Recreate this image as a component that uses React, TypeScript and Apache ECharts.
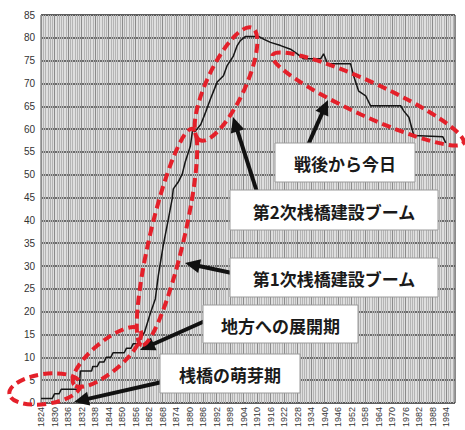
import React, { useEffect, useRef } from 'react';
import * as echarts from 'echarts';

// Tick labels exactly as printed on the reference axis
const xTickLabels = [
  '1824', '1830', '1836', '1832', '1838', '1844', '1850', '1856', '1862', '1868',
  '1874', '1880', '1886', '1892', '1898', '1904', '1910', '1916', '1922', '1928',
  '1934', '1940', '1946', '1952', '1958', '1964', '1970', '1976', '1982', '1988', '1994',
];

// Position along the axis (tick i sits at 1824 + 6 * i)
const axisYears = [
  1824, 1829, 1830, 1832, 1833, 1841, 1841.5, 1846.5, 1847, 1849, 1850, 1852, 1853, 1855,
  1856, 1861, 1862, 1864, 1865, 1867, 1868, 1870, 1872.5, 1874.8, 1876.1, 1878.3, 1880.6,
  1882.3, 1882.8, 1885, 1886.8, 1888.1, 1890.4, 1891.3, 1892.5, 1895, 1897, 1899.3, 1902.3,
  1905.1, 1906.7, 1909.5, 1911.2, 1912.6, 1914.9, 1920.7, 1922.9, 1926, 1930.5, 1934.9,
  1937.9, 1940.7, 1948.3, 1949.6, 1951.4, 1961.6, 1963, 1965.2, 1967, 1968.3, 1970.5,
  1983.9, 1985.2, 1987.5, 1989.7, 2002.6, 2003.9,
];

// Number of piers
const pierCounts = [
  1, 1, 2, 2, 3, 3, 7, 7, 8, 8, 9, 9, 10, 10,
  11, 11, 12, 12, 13, 13, 14, 15.5, 19.5, 22.8, 27.8, 34.4, 40.3,
  44.7, 46.9, 48.4, 50.2, 52.8, 56.3, 59.6, 59.5, 61, 63.5, 66.6, 70.3,
  71.7, 73.9, 76, 78.3, 79.4, 80.3, 80.3, 79.7, 79, 78.3, 77.5,
  76.5, 75.4, 75.4, 76.5, 74.3, 74.3, 71.6, 68.3, 67.7, 67.3, 65.1,
  65.1, 64, 62.6, 58.6, 58.3, 57,
];

const periodLabels = ['戦後から今日', '第2次桟橋建設ブーム', '第1次桟橋建設ブーム', '地方への展開期', '桟橋の萌芽期'];

const RED = '#e4202a';
const JP = '"Noto Sans CJK JP", "Noto Sans", sans-serif';

function arrow(x1: number, y1: number, x2: number, y2: number) {
  const dx = x2 - x1;
  const dy = y2 - y1;
  const L = Math.hypot(dx, dy);
  const ux = dx / L;
  const uy = dy / L;
  const hl = 15;
  const hw = 14;
  const bx = x2 - ux * hl;
  const by = y2 - uy * hl;
  const px = -uy;
  const py = ux;
  return [
    {
      type: 'line',
      z: 10,
      shape: { x1, y1, x2: bx + ux * 2, y2: by + uy * 2 },
      style: { stroke: '#111', lineWidth: 4 },
    },
    {
      type: 'polygon',
      z: 10,
      shape: {
        points: [
          [x2, y2],
          [bx + (px * hw) / 2, by + (py * hw) / 2],
          [bx - (px * hw) / 2, by - (py * hw) / 2],
        ],
      },
      style: { fill: '#111' },
    },
  ];
}

function box(x: number, y: number, w: number, h: number, text: string) {
  return [
    {
      type: 'rect',
      z: 20,
      shape: { x, y, width: w, height: h },
      style: { fill: '#fff', stroke: '#9a9a9a', lineWidth: 1 },
    },
    {
      type: 'text',
      z: 21,
      x: x + w / 2,
      y: y + h / 2 + 1,
      style: {
        text,
        fill: '#1a1a1a',
        fontSize: 17,
        fontWeight: 'bold',
        fontFamily: JP,
        align: 'center',
        verticalAlign: 'middle',
      },
    },
  ];
}

function ring(cx: number, cy: number, rx: number, ry: number, deg: number) {
  return {
    type: 'ellipse',
    z: 30,
    x: cx,
    y: cy,
    rotation: (deg * Math.PI) / 180,
    shape: { cx: 0, cy: 0, rx, ry },
    style: { fill: 'none', stroke: RED, lineWidth: 4, lineDash: [9, 5] },
  };
}

export default function App() {
  const ref = useRef<HTMLDivElement>(null);

  useEffect(() => {
    if (!ref.current) return;
    const chart = echarts.init(ref.current, null, { renderer: 'svg' });
    const data = axisYears.map((x, i) => [x, pierCounts[i]]);

    const elements: any[] = [
      ...arrow(308, 145, 328, 100),
      ...arrow(257, 192, 233, 117),
      ...arrow(232, 273, 185, 263),
      ...arrow(205, 321, 140, 350),
      ...arrow(162, 382, 74, 402),
      ...box(275, 143, 140, 39, periodLabels[0]),
      ...box(230, 190, 208, 40, periodLabels[1]),
      ...box(230, 258, 208, 39, periodLabels[2]),
      ...box(203, 305, 155, 38, periodLabels[3]),
      ...box(160, 354, 140, 39, periodLabels[4]),
      ring(45, 389, 36, 15, 8),
      ring(107, 357, 43, 15, 40),
      ring(167, 237, 111, 17, 76.8),
      ring(226, 84, 62, 19, 65),
      ring(368, 99, 105, 17, -24.7),
    ];

    chart.setOption({
      animation: false,
      backgroundColor: '#fff',
      grid: {
        left: 41,
        right: 10,
        top: 15,
        bottom: 26,
        show: true,
        backgroundColor: '#dedede',
        borderColor: '#555',
        borderWidth: 1,
      },
      xAxis: {
        type: 'value',
        min: 1824,
        max: 2008,
        interval: 6,
        axisLine: { show: false },
        axisTick: { show: false },
        axisLabel: {
          rotate: 90,
          fontSize: 9,
          color: '#333',
          margin: 4,
          fontFamily: '"Liberation Sans", Arial, sans-serif',
          formatter: (v: number) => xTickLabels[Math.round((v - 1824) / 6)] ?? '',
        },
        splitLine: { show: true, lineStyle: { color: '#8a8a8a', width: 1 } },
        minorTick: { show: false, splitNumber: 6 },
        minorSplitLine: { show: true, lineStyle: { color: '#b4b4b4', width: 1 } },
      },
      yAxis: {
        type: 'value',
        min: 0,
        max: 85,
        interval: 5,
        axisLine: { show: false },
        axisTick: { show: false },
        axisLabel: {
          fontSize: 10,
          color: '#333',
          margin: 6,
          fontFamily: '"Liberation Sans", Arial, sans-serif',
        },
        splitLine: { show: true, lineStyle: { color: '#444', width: 1.5 } },
      },
      series: [
        {
          type: 'line',
          data,
          symbol: 'none',
          z: 5,
          lineStyle: { color: '#151515', width: 1.5 },
        },
      ],
      graphic: { elements },
    });

    return () => chart.dispose();
  }, []);

  return (
    <div
      ref={ref}
      style={{ position: 'fixed', left: 0, top: 0, width: 465, height: 430 }}
    />
  );
}
